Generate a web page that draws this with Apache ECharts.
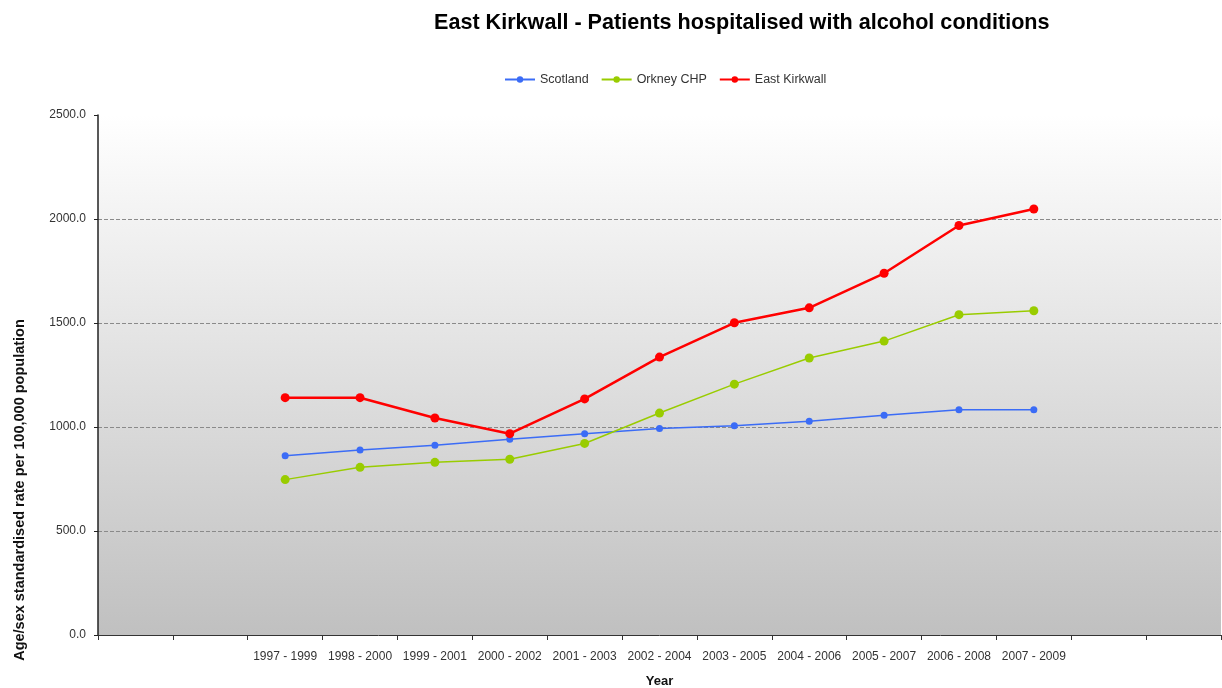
<!DOCTYPE html>
<html>
<head>
<meta charset="utf-8">
<script src="https://cdn.jsdelivr.net/npm/echarts@6/dist/echarts.min.js"></script>
<style>
  html, body { margin: 0; padding: 0; background: #fff; }
  #main { width: 1222px; height: 688px; }
</style>
</head>
<body>
<div id="main"></div>
<script>
// periods shown on the x axis (two empty slots either side, as in the original)
var periods = ['1997 - 1999', '1998 - 2000', '1999 - 2001', '2000 - 2002', '2001 - 2003',
    '2002 - 2004', '2003 - 2005', '2004 - 2006', '2005 - 2007', '2006 - 2008', '2007 - 2009'];
var scotland = [862, 889, 912, 941, 968, 993, 1006, 1028, 1057, 1083, 1083];
var orkney = [747, 806, 830, 845, 921, 1067, 1206, 1332, 1413, 1540, 1559];
var eastKirkwall = [1141, 1141, 1043, 968, 1135, 1336, 1501, 1573, 1739, 1969, 2048];
var yTicks = [0, 500, 1000, 1500, 2000, 2500];

var pad = ['', ''];
var categories = pad.concat(periods, pad);
function padded(arr) {
    return [null, null].concat(arr, [null, null]);
}

var font = 'Arial, "Liberation Sans", sans-serif';
var myChart = echarts.init(document.getElementById('main'));
var option = {
    animation: false,
    textStyle: { fontFamily: font },
    title: {
        text: 'East Kirkwall - Patients hospitalised with alcohol conditions',
        left: 429,
        top: 7,
        textStyle: { fontSize: 21.6, fontWeight: 'bold', color: '#000', fontFamily: font }
    },
    legend: {
        top: 68,
        left: 499,
        itemGap: 12,
        itemWidth: 30,
        itemHeight: 8,
        textStyle: { fontSize: 12.5, color: '#333' },
        data: ['Scotland', 'Orkney CHP', 'East Kirkwall']
    },
    grid: {
        left: 98,
        right: 1,
        top: 115,
        bottom: 53,
        outerBoundsMode: 'none',
        containLabel: false,
        show: true,
        borderWidth: 0,
        backgroundColor: new echarts.graphic.LinearGradient(0, 0, 0, 1, [
            { offset: 0, color: '#ffffff' },
            { offset: 1, color: '#c0c0c0' }
        ])
    },
    xAxis: {
        type: 'category',
        data: categories,
        boundaryGap: true,
        name: 'Year',
        nameLocation: 'middle',
        nameGap: 40,
        nameTextStyle: { fontSize: 13, fontWeight: 'bold', color: '#111' },
        axisLine: { lineStyle: { color: '#333', width: 1 } },
        axisTick: { show: true, alignWithLabel: false, length: 5, lineStyle: { color: '#333' } },
        axisLabel: { interval: 0, fontSize: 12, color: '#333', margin: 16 },
        splitLine: { show: false }
    },
    yAxis: {
        type: 'value',
        min: yTicks[0],
        max: yTicks[yTicks.length - 1],
        interval: 500,
        axisLine: { show: true, lineStyle: { color: '#222', width: 1.5 } },
        axisTick: { show: true, length: 4, lineStyle: { color: '#222' } },
        axisLabel: {
            fontSize: 12,
            color: '#333',
            margin: 12,
            formatter: function (v) { return v.toFixed(1); }
        },
        splitLine: {
            show: true,
            lineStyle: {
                type: 'dashed',
                color: ['transparent', '#8a8a8a', '#8a8a8a', '#8a8a8a', '#8a8a8a', 'transparent']
            }
        }
    },
    graphic: [{
        type: 'text',
        x: 20,
        y: 490,
        rotation: Math.PI / 2,
        style: {
            text: 'Age/sex standardised rate per 100,000 population',
            font: 'bold 14.5px ' + font,
            fill: '#111',
            align: 'center',
            verticalAlign: 'middle'
        }
    }],
    series: [
        {
            name: 'Scotland',
            type: 'line',
            data: padded(scotland),
            symbol: 'circle',
            symbolSize: 7,
            itemStyle: { color: '#3b6cf6' },
            lineStyle: { width: 1.5, color: '#3b6cf6' },
            z: 3
        },
        {
            name: 'Orkney CHP',
            type: 'line',
            data: padded(orkney),
            symbol: 'circle',
            symbolSize: 9,
            itemStyle: { color: '#99cc00' },
            lineStyle: { width: 1.5, color: '#99cc00' },
            z: 4
        },
        {
            name: 'East Kirkwall',
            type: 'line',
            data: padded(eastKirkwall),
            symbol: 'circle',
            symbolSize: 9,
            itemStyle: { color: '#ff0000' },
            lineStyle: { width: 2.5, color: '#ff0000' },
            z: 5
        }
    ]
};
myChart.setOption(option);
</script>
</body>
</html>
